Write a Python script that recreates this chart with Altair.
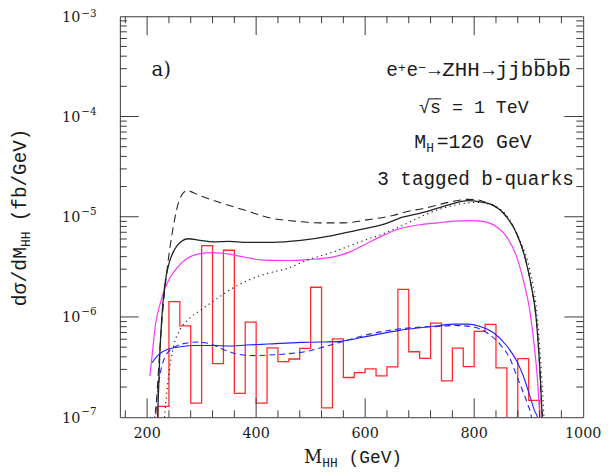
import altair as alt
import pandas as pd

# ---------------- data ----------------
# black solid
tot_x = [219, 223, 227, 232, 240, 250, 262, 275, 297, 321, 351, 382, 430, 482, 542, 584, 633, 669, 705, 733,
         763, 787, 811, 836, 860, 878, 893, 905, 914, 920.5, 925, 926.5]
tot_y = [8.9e-8, 3.98e-7, 1.0e-6, 2.0e-6, 3.39e-6, 4.68e-6, 5.62e-6, 6.03e-6, 5.82e-6, 5.62e-6, 5.69e-6, 5.56e-6,
         5.56e-6, 5.82e-6, 6.52e-6, 7.31e-6, 8.38e-6, 9.89e-6, 1.10e-5, 1.22e-5, 1.36e-5, 1.45e-5, 1.41e-5,
         1.29e-5, 9.89e-6, 6.78e-6, 3.98e-6, 2.01e-6, 9.4e-7, 3.01e-7, 1.0e-7, 7.9e-8]
# black dashed
dash_x = [214.5, 221, 227, 236.5, 248, 260, 273, 297, 333, 382, 424, 470, 518, 560, 603, 651, 681, 705, 733, 763,
          787, 805, 820, 836, 860, 878, 893, 905, 914, 920.5, 925, 926.5]
dash_y = [7.9e-8, 3.02e-7, 8.9e-7, 2.95e-6, 7.94e-6, 1.51e-5, 1.82e-5, 1.62e-5, 1.39e-5, 1.15e-5, 9.77e-6, 9.04e-6,
          8.69e-6, 8.69e-6, 9.31e-6, 1.03e-5, 1.14e-5, 1.20e-5, 1.31e-5, 1.43e-5, 1.49e-5, 1.48e-5, 1.40e-5,
          1.29e-5, 9.89e-6, 6.78e-6, 3.98e-6, 2.01e-6, 9.4e-7, 3.01e-7, 1.0e-7, 7.9e-8]
# black dotted
dot_x = [231, 239.5, 248.6, 260.7, 279, 298, 321, 357, 394, 421, 457, 494, 542, 590, 633, 675, 705, 739, 775, 805,
         836, 866, 884, 902, 914.5, 923, 928, 929]
dot_y = [8.9e-8, 2.59e-7, 5.13e-7, 7.5e-7, 9.8e-7, 1.17e-6, 1.43e-6, 1.94e-6, 2.43e-6, 2.72e-6, 3.05e-6, 3.69e-6,
         4.46e-6, 5.6e-6, 6.78e-6, 8.51e-6, 1.02e-5, 1.20e-5, 1.34e-5, 1.39e-5, 1.29e-5, 9.16e-6, 5.81e-6,
         2.95e-6, 1.17e-6, 3.02e-7, 1.0e-7, 7.9e-8]
# magenta solid
mag_x = [205, 209, 215, 224, 236.5, 251.6, 273, 297, 321, 351, 382, 412, 457, 494, 542, 572, 603, 633, 663, 705,
         733, 763, 793, 818, 842, 860, 878, 890, 902, 911, 917, 920.5, 921.5]
mag_y = [2.57e-7, 4.07e-7, 8.13e-7, 1.37e-6, 2.16e-6, 2.94e-6, 3.83e-6, 4.29e-6, 4.39e-6, 4.23e-6, 3.92e-6, 3.69e-6,
         3.66e-6, 3.74e-6, 3.98e-6, 4.46e-6, 5.40e-6, 6.52e-6, 7.59e-6, 8.38e-6, 8.69e-6, 9.04e-6, 9.16e-6,
         8.95e-6, 7.87e-6, 6.27e-6, 3.98e-6, 2.34e-6, 1.17e-6, 4.73e-7, 2.05e-7, 1.0e-7, 7.9e-8]
# blue solid
blu_x = [209.3, 218.4, 236.5, 260.7, 291, 321, 351, 382, 421, 482, 518, 554, 603, 663, 705, 733, 763, 787, 811,
         836, 860, 878, 890, 902, 911, 916, 917.5]
blu_y = [3.50e-7, 4.07e-7, 4.73e-7, 5.04e-7, 5.19e-7, 5.19e-7, 5.13e-7, 5.25e-7, 5.37e-7, 5.58e-7, 5.62e-7,
         5.71e-7, 6.40e-7, 7.35e-7, 7.85e-7, 8.17e-7, 8.49e-7, 8.49e-7, 8.04e-7, 6.92e-7, 5.13e-7, 3.64e-7,
         2.59e-7, 1.64e-7, 1.15e-7, 1.0e-7, 7.9e-8]
# blue dashed
bld_x = [213, 218.4, 224.4, 233.5, 248.6, 266.8, 291, 315, 339.5, 364, 394, 421, 457.5, 494, 530, 566.5, 603, 651,
         705, 733, 763, 793.5, 824, 848, 866, 878, 890, 899, 905, 906.5]
bld_y = [8.9e-8, 1.64e-7, 2.79e-7, 4.07e-7, 4.93e-7, 5.42e-7, 5.62e-7, 5.42e-7, 4.73e-7, 4.29e-7, 4.12e-7, 4.16e-7,
         4.29e-7, 4.55e-7, 5.13e-7, 5.85e-7, 6.65e-7, 7.45e-7, 7.94e-7, 8.04e-7, 8.22e-7, 8.04e-7, 6.92e-7,
         5.30e-7, 3.80e-7, 2.59e-7, 1.77e-7, 1.31e-7, 1.0e-7, 7.9e-8]
# red histogram (20 GeV bins, left edges); 1e-9 = empty bin (below the axis)
hist_left = [220, 240, 260, 280, 300, 320, 340, 360, 380, 400, 420, 440, 460, 480, 500, 520, 540, 560, 580, 600,
             620, 640, 660, 680, 700, 720, 740, 760, 780, 800, 820, 840, 860, 880, 900]
hist_val = [1.28e-7, 1.42e-6, 8.15e-7, 1.38e-7, 5.15e-6, 3.43e-7, 4.63e-6, 1.73e-7, 8.9e-7, 1.38e-7,
            4.93e-7, 3.59e-7, 3.81e-7, 4.87e-7, 1.98e-6, 1.24e-7, 6.05e-7, 2.49e-7, 2.79e-7, 3.04e-7,
            2.59e-7, 3.18e-7, 1.89e-6, 4.5e-7, 3.87e-7, 8.7e-7, 2.31e-7, 4.9e-7, 3.2e-7, 7.2e-7,
            8.45e-7, 3.1e-7, 1e-9, 3.85e-7, 1.47e-7]
hist_lo, hist_hi = 200, 920

# axis ticks / labels
x_major = [200, 400, 600, 800, 1000]
x_minor = [160, 240, 280, 320, 360, 440, 480, 520, 560, 640, 680, 720, 760, 840, 880, 920, 960]
y_decades = [1e-7, 1e-6, 1e-5, 1e-4, 1e-3]
y_exp = ["\u22127", "\u22126", "\u22125", "\u22124", "\u22123"]
y_minor = [k * d for d in [1e-7, 1e-6, 1e-5, 1e-4] for k in range(2, 10)]

# ---------------- styling ----------------
W, H = 468, 405
MONO = "Liberation Mono"
SERIF = "DejaVu Serif"
INK = "#1a1a1a"
FRAME = "#3a3a3a"

xs = alt.Scale(domain=[150, 1000], nice=False, zero=False)
ys = alt.Scale(type="log", domain=[1e-7, 1e-3], nice=False)


def curve(xv, yv, color, width=1.1, dash=None, interp="monotone"):
    df = pd.DataFrame({"m": xv, "s": yv})
    kw = dict(color=color, strokeWidth=width, interpolate=interp, clip=True)
    if dash:
        kw["strokeDash"] = dash
    return alt.Chart(df).mark_line(**kw).encode(
        x=alt.X("m:Q", scale=xs, axis=None),
        y=alt.Y("s:Q", scale=ys, axis=None),
    )


def txt(s, x, y, size, font=MONO, align="left", baseline="alphabetic", angle=0, color=INK):
    kw = dict(align=align, baseline=baseline, fontSize=size, font=font, color=color)
    if angle:
        kw["angle"] = angle
    return alt.Chart(pd.DataFrame({"t": [s]})).mark_text(**kw).encode(
        text="t:N", x=alt.value(x), y=alt.value(y))


def hline(x1, x2, y, color=INK, width=1.1):
    return alt.Chart(pd.DataFrame({"a": [0]})).mark_rule(color=color, strokeWidth=width).encode(
        x=alt.value(x1), x2=alt.value(x2), y=alt.value(y))


layers = []

# histogram
hx = [hist_lo] + hist_left + [hist_hi]
hy = [1e-9] + hist_val + [1e-9]
layers.append(curve(hx, hy, "#ff2a2a", width=1.3, interp="step-after"))

# curves
layers.append(curve(mag_x, mag_y, "#ff33ff", width=1.2))
layers.append(curve(blu_x, blu_y, "#1f1fff", width=1.1))
layers.append(curve(bld_x, bld_y, "#1f1fff", width=1.1, dash=[6, 4]))
layers.append(curve(dot_x, dot_y, "#222222", width=1.2, dash=[1.2, 3.6]))
layers.append(curve(dash_x, dash_y, "#222222", width=1.1, dash=[8, 5]))
layers.append(curve(tot_x, tot_y, "#222222", width=1.3))


# ticks (inward, on all four sides)
def xticks(vals, length):
    df = pd.DataFrame({"v": vals})
    b = alt.Chart(df).mark_rule(color=FRAME, strokeWidth=1)
    enc_x = alt.X("v:Q", scale=xs, axis=None)
    return [b.encode(x=enc_x, y=alt.value(H), y2=alt.value(H - length)),
            b.encode(x=enc_x, y=alt.value(0), y2=alt.value(length))]


def yticks(vals, length):
    df = pd.DataFrame({"v": vals})
    b = alt.Chart(df).mark_rule(color=FRAME, strokeWidth=1)
    enc_y = alt.Y("v:Q", scale=ys, axis=None)
    return [b.encode(y=enc_y, x=alt.value(0), x2=alt.value(length)),
            b.encode(y=enc_y, x=alt.value(W - length), x2=alt.value(W))]


layers += xticks(x_major[:-1], 19) + xticks(x_minor, 7)
layers += yticks(y_decades[1:-1], 19) + yticks(y_minor, 7)

# tick labels
xl = pd.DataFrame({"v": x_major, "t": [str(v) for v in x_major]})
layers.append(alt.Chart(xl).mark_text(font=SERIF, fontSize=14.5, baseline="middle", align="center",
                                      color=INK).encode(
    x=alt.X("v:Q", scale=xs, axis=None), y=alt.value(H + 16.5), text="t:N"))
yl = pd.DataFrame({"v": y_decades, "e": y_exp, "b": ["10"] * 5})
layers.append(alt.Chart(yl).mark_text(font=SERIF, fontSize=14.5, baseline="middle", align="right",
                                      dy=1.5, color=INK).encode(
    y=alt.Y("v:Q", scale=ys, axis=None), x=alt.value(-40), text="b:N"))
layers.append(alt.Chart(yl.iloc[:-1]).mark_text(font=SERIF, fontSize=10.5, baseline="middle", align="left",
                                                dy=-5, color=INK).encode(
    y=alt.Y("v:Q", scale=ys, axis=None), x=alt.value(-39), text="e:N"))
layers.append(alt.Chart(yl.iloc[-1:]).mark_text(font=SERIF, fontSize=10.5, baseline="middle", align="left",
                                                dy=-2, color=INK).encode(
    y=alt.Y("v:Q", scale=ys, axis=None), x=alt.value(-39), text="e:N"))

# axis titles
layers.append(txt("M", 186, 451, 18, font=SERIF))
layers.append(txt("HH", 204.5, 455, 13))
layers.append(txt("(GeV)", 231, 451, 18))
layers.append(txt("d\u03c3/dM", -95, 293, 20, angle=270))
layers.append(txt("HH", -91, 233, 13, angle=270))
layers.append(txt("(fb/GeV)", -95, 207, 19.5, angle=270))

# panel label
layers.append(txt("a)", 32, 60, 20, font=SERIF))

# annotation block
L1 = 60
layers.append(txt("e", 269, L1, 19.5))
layers.append(txt("+", 281, L1 - 8, 13, baseline="middle"))
layers.append(txt("e", 289.5, L1, 19.5))
layers.append(txt("\u2212", 301.5, L1 - 8, 13, baseline="middle"))
layers.append(txt("\u2192", 312, L1, 19.5))
layers.append(txt("ZHH", 325.7, L1, 21))
layers.append(txt("\u2192", 366.5, L1, 19.5))
layers.append(txt("jjbbbb", 379.7, L1, 21))
layers.append(hline(418.5, 429.5, L1 - 16.5))
layers.append(hline(443.5, 454.5, L1 - 16.5))

L2 = 97.7
layers.append(txt("\u221as = 1 TeV", 357.6, L2, 18.5, align="center"))
layers.append(hline(312, 324.5, L2 - 14.3))

L3 = 133
layers.append(txt("M", 297.3, L3, 20))
layers.append(txt("H", 309.5, L3 + 4, 13))
layers.append(txt("=120 GeV", 320, L3, 20))

layers.append(txt("3 tagged b-quarks", 359.3, 170, 19.5, align="center"))

chart = alt.layer(*layers).properties(
    width=W, height=H,
    padding={"left": 113, "top": 6, "right": 19, "bottom": 55},
    autosize=alt.AutoSizeParams(type="none"),
).configure_view(stroke=FRAME, strokeWidth=1)

chart.save("out.html", embed_options={"renderer": "svg", "actions": False})
